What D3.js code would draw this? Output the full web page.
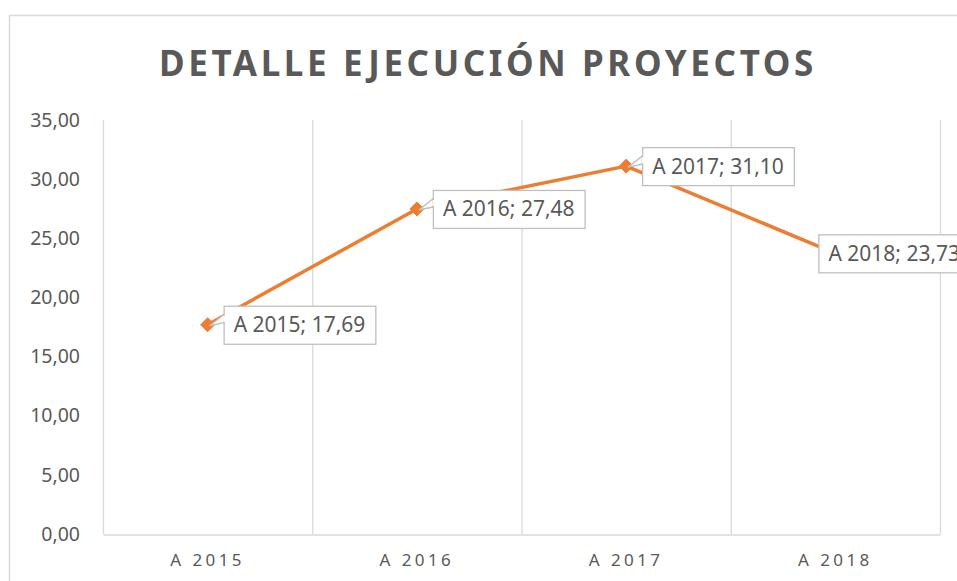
<!DOCTYPE html>
<html><head><meta charset="utf-8">
<script src="https://cdn.jsdelivr.net/npm/d3@7"></script>
<style>
html,body{margin:0;padding:0;background:#fff;overflow:hidden;}
text{font-family:"Noto Sans",sans-serif;}
</style></head>
<body>
<svg id="chart" width="957" height="581"></svg>
<script>
const categories = ["A 2015", "A 2016", "A 2017", "A 2018"];
const values = [17.69, 27.48, 31.10, 23.73];
const yTicks = [0, 5, 10, 15, 20, 25, 30, 35];
const title = "DETALLE EJECUCIÓN PROYECTOS";

const svg = d3.select("#chart");
const m = {left: 103, right: 940, top: 120, bottom: 534};
const grey = "#595959", gridC = "#d9d9d9", orange = "#ED7D31";

// chart border
svg.append("rect").attr("x", 9.5).attr("y", 15.5).attr("width", 1000).attr("height", 700)
  .attr("fill", "#fff").attr("stroke", gridC).attr("stroke-width", 1.5);

svg.append("text").attr("x", 488).attr("y", 76).attr("text-anchor", "middle")
  .attr("font-size", 35).attr("font-weight", "bold").attr("fill", grey)
  .attr("letter-spacing", 3.6).text(title);

const x = d3.scaleBand().domain(categories).range([m.left, m.right]);
const y = d3.scaleLinear().domain([0, 35]).range([m.bottom, m.top]);
const fmt = v => d3.format(".2f")(v).replace(".", ",");

// vertical gridlines at category boundaries
const bounds = categories.map(c => x(c)).concat([m.right]);
svg.append("g").selectAll("line").data(bounds).join("line")
  .attr("x1", d => d + 0.5).attr("x2", d => d + 0.5)
  .attr("y1", m.top).attr("y2", m.bottom)
  .attr("stroke", gridC).attr("stroke-width", 1.3);

// x axis
const xAxis = svg.append("g").attr("transform", `translate(0,${m.bottom + 0.5})`)
  .call(d3.axisBottom(x).tickSize(0).tickPadding(19));
xAxis.select(".domain").attr("stroke", gridC).attr("stroke-width", 1.3);
xAxis.selectAll("text").attr("font-size", 17).attr("fill", grey)
  .attr("letter-spacing", 3.4).attr("font-family", '"Noto Sans",sans-serif');

// y axis labels
const yAxis = svg.append("g").attr("transform", `translate(${m.left},0)`)
  .call(d3.axisLeft(y).tickValues(yTicks).tickSize(0).tickPadding(23).tickFormat(fmt));
yAxis.select(".domain").remove();
yAxis.selectAll("text").attr("font-size", 19.5).attr("fill", grey)
  .attr("font-family", '"Noto Sans",sans-serif');

const pts = categories.map((c, i) => ({c, v: values[i], px: x(c) + x.bandwidth() / 2, py: y(values[i]), i}));

svg.append("path").datum(pts)
  .attr("d", d3.line().x(d => d.px).y(d => d.py))
  .attr("fill", "none").attr("stroke", orange).attr("stroke-width", 3.5)
  .attr("stroke-linejoin", "round");

const r = 7;
svg.append("g").selectAll("path").data(pts).join("path")
  .attr("transform", d => `translate(${d.px},${d.py})`)
  .attr("d", `M0,${-r}L${r},0L0,${r}L${-r},0Z`)
  .attr("fill", orange).attr("stroke", orange).attr("stroke-width", 1);

// data labels with callouts
const lg = svg.append("g");
pts.forEach(d => {
  const g = lg.append("g");
  const txt = g.append("text").attr("font-size", 21).attr("fill", grey)
    .text(`${d.c}; ${fmt(d.v)}`);
  const tw = txt.node().getComputedTextLength();
  const bw = tw + 20, bh = 38;
  const last = d.i === pts.length - 1;
  const bx = last ? d.px - 17 : d.px + 16;
  const by = d.py - 19;
  if (!last) {
    g.insert("path", "text")
      .attr("d", `M${d.px + 2},${d.py + 1} L${bx},${by + 9} L${bx},${by + 17} Z`)
      .attr("fill", "#fff").attr("stroke", "#bfbfbf").attr("stroke-width", 1.3);
  }
  g.insert("rect", "text").attr("x", bx + 0.5).attr("y", by + 0.5).attr("width", bw).attr("height", bh)
    .attr("fill", "#fff").attr("stroke", "#bfbfbf").attr("stroke-width", 1.3);
  if (!last) {
    g.insert("line", "text").attr("x1", bx + 0.5).attr("x2", bx + 0.5).attr("y1", by + 10).attr("y2", by + 16)
      .attr("stroke", "#fff").attr("stroke-width", 2);
  }
  txt.attr("x", bx + 10).attr("y", by + bh / 2 + 7.5);
});
</script>
</body></html>
